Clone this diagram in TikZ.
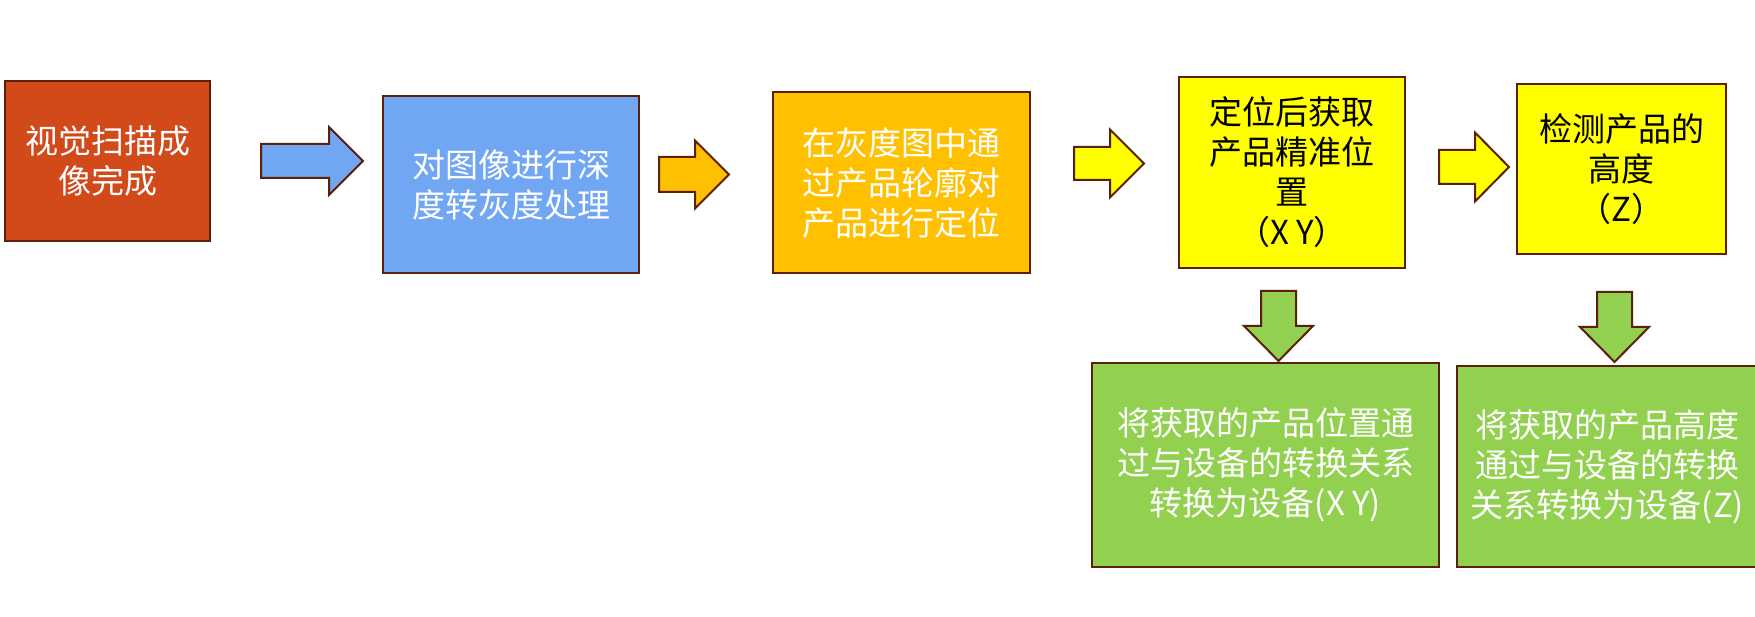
\documentclass[tikz,border=0pt]{standalone}
\usepackage{fontspec}
\newfontfamily\cjk{Noto Sans CJK SC}
\usepackage{tikz}

\definecolor{edgebrown}{HTML}{5C1F0B}
\definecolor{scanred}{HTML}{D2491A}
\definecolor{grayblue}{HTML}{70A6F2}
\definecolor{locorange}{HTML}{FFC000}
\definecolor{posyellow}{HTML}{FFFF00}
\definecolor{devgreen}{HTML}{92D050}

% block arrows: fill, x start, x head base, x tip, y centre, shaft half, head half
\newcommand{\blockarrowR}[7]{%
  \draw[blockarrow, fill=#1] (#2,{#5-#6}) -- (#3,{#5-#6}) -- (#3,{#5-#7})
    -- (#4,#5) -- (#3,{#5+#7}) -- (#3,{#5+#6}) -- (#2,{#5+#6}) -- cycle;}
% fill, x centre, y start, y head base, y tip, shaft half, head half
\newcommand{\blockarrowD}[7]{%
  \draw[blockarrow, fill=#1] ({#2-#6},#3) -- ({#2-#6},#4) -- ({#2-#7},#4)
    -- (#2,#5) -- ({#2+#7},#4) -- ({#2+#6},#4) -- ({#2+#6},#3) -- cycle;}

\begin{document}
\begin{tikzpicture}[x=1pt,y=-1pt,
    box/.style={draw=edgebrown, line width=2pt, inner sep=0pt, align=center,
                font=\cjk\fontsize{33}{40}\selectfont},
    blockarrow/.style={draw=edgebrown, line width=2pt, line join=miter}]
  \clip (0,0) rectangle (1755,617);
  \fill[white] (0,0) rectangle (1755,617);

  % top row
  \node[box, fill=scanred, text=white, minimum width=205, minimum height=160]
       (scan) at (107.5,161) {视觉扫描成\\像完成};
  \node[box, fill=grayblue, text=white, minimum width=256, minimum height=177]
       (gray) at (511,184.5) {对图像进行深\\度转灰度处理};
  \node[box, fill=locorange, text=white, minimum width=257, minimum height=181]
       (locate) at (901.5,182.5) {在灰度图中通\\过产品轮廓对\\产品进行定位};
  \node[box, fill=posyellow, text=black, minimum width=226, minimum height=191]
       (xy) at (1292,172.5) {定位后获取\\产品精准位\\置\\（X Y）};
  \node[box, fill=posyellow, text=black, minimum width=209, minimum height=170]
       (z) at (1621.5,169) {检测产品的\\高度\\（Z）};

  % bottom row
  \node[box, fill=devgreen, text=white, minimum width=347, minimum height=204]
       (devxy) at (1265.5,465) {将获取的产品位置通\\过与设备的转换关系\\转换为设备(X Y)};
  \node[box, fill=devgreen, text=white, minimum width=301, minimum height=201]
       (devz) at (1607.5,466.5) {将获取的产品高度\\通过与设备的转换\\关系转换为设备(Z)};

  % arrows
  \blockarrowR{grayblue}{261}{329}{363}{161}{17}{34}
  \blockarrowR{locorange}{659}{695}{729}{174.5}{17.5}{34}
  \blockarrowR{posyellow}{1074}{1110}{1144}{163.5}{16.5}{34}
  \blockarrowR{posyellow}{1439}{1475}{1509}{167}{17}{34.5}
  \blockarrowD{devgreen}{1278.5}{291}{326}{361}{17.5}{34.5}
  \blockarrowD{devgreen}{1614.5}{292}{327}{362}{17.5}{34.5}
\end{tikzpicture}
\end{document}
